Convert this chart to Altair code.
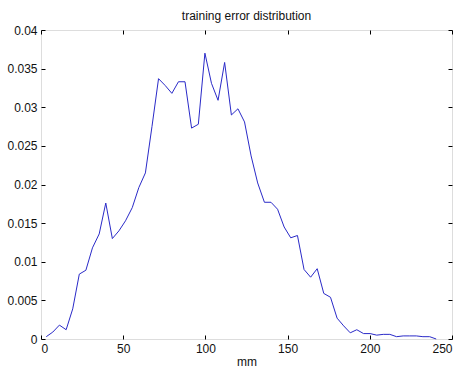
import altair as alt
import pandas as pd

# Error magnitude bin centres (mm) and the fraction of samples in each bin
mm = [3.2, 7.2, 11.2, 15.3, 19.3, 23.3, 27.3, 31.3, 35.4, 39.4,
      43.4, 47.4, 51.4, 55.5, 59.5, 63.5, 67.5, 71.5, 75.6, 79.6,
      83.6, 87.6, 91.6, 95.7, 99.7, 103.7, 107.7, 111.7, 115.8, 119.8,
      123.8, 127.8, 131.8, 135.9, 139.9, 143.9, 147.9, 151.9, 156.0, 160.0,
      164.0, 168.0, 172.0, 176.1, 180.1, 184.1, 188.1, 192.1, 196.2, 200.2,
      204.2, 208.2, 212.2, 216.3, 220.3, 224.3, 228.3, 232.3, 236.4, 240.4]
freq = [0.0003, 0.0009, 0.0018, 0.0012, 0.0039, 0.0084, 0.0089, 0.0118, 0.0136, 0.0176,
        0.0130, 0.0140, 0.0153, 0.0170, 0.0196, 0.0215, 0.0275, 0.0337, 0.0328, 0.0318,
        0.0333, 0.0333, 0.0273, 0.0278, 0.0370, 0.0331, 0.0309, 0.0358, 0.0290, 0.0298,
        0.0281, 0.0237, 0.0202, 0.0177, 0.0177, 0.0168, 0.0145, 0.0131, 0.0134, 0.0090,
        0.0080, 0.0091, 0.0059, 0.0054, 0.0027, 0.0017, 0.0008, 0.0012, 0.0007, 0.0007,
        0.0005, 0.0006, 0.0006, 0.0003, 0.0004, 0.0004, 0.0004, 0.0003, 0.0003, 0.0000]

x_ticks = [0, 50, 100, 150, 200, 250]
y_ticks = [0, 0.005, 0.01, 0.015, 0.02, 0.025, 0.03, 0.035, 0.04]

df = pd.DataFrame({"mm": mm, "freq": freq})

FONT = "Liberation Sans"
x_scale = alt.Scale(domain=[0, 250], nice=False, zero=False)
y_scale = alt.Scale(domain=[0, 0.04], nice=False)

# Inward ticks: axis line shifted inside the frame, ticks reach back out to it
tick_style = dict(domain=False, grid=False, offset=-4, tickSize=4,
                  tickColor="black", tickWidth=1,
                  labelFont=FONT, labelFontSize=12, labelColor="#111111",
                  titleFont=FONT, titleFontSize=12, titleColor="#111111",
                  titleFontWeight="normal")

main = alt.Chart(df).mark_line(color="#2a2ac8", strokeWidth=1).encode(
    x=alt.X("mm:Q", scale=x_scale,
            axis=alt.Axis(title="mm", values=x_ticks, format="d",
                          labelPadding=4, titlePadding=2, **tick_style)),
    y=alt.Y("freq:Q", scale=y_scale,
            axis=alt.Axis(title=None, values=y_ticks, format="~g",
                          labelPadding=4, **tick_style)),
)

mirror = alt.Chart(df).mark_line(opacity=0).encode(
    x=alt.X("mm:Q", scale=x_scale,
            axis=alt.Axis(orient="top", title=None, values=x_ticks,
                          labels=False, **tick_style)),
    y=alt.Y("freq:Q", scale=y_scale,
            axis=alt.Axis(orient="right", title=None, values=y_ticks,
                          labels=False, **tick_style)),
)

chart = alt.layer(main, mirror).resolve_axis(
    x="independent", y="independent"
).properties(
    width=411,
    height=309,
    title=alt.TitleParams("training error distribution", fontSize=12,
                          font=FONT, fontWeight="normal", color="#111111",
                          offset=1),
    padding={"left": 41, "top": 30, "right": 10, "bottom": 31},
    autosize=alt.AutoSizeParams(type="none"),
).configure_view(
    stroke="#222222", strokeWidth=1.2
).configure(background="white")

chart.save("out.html", embed_options={"renderer": "svg", "actions": False})
